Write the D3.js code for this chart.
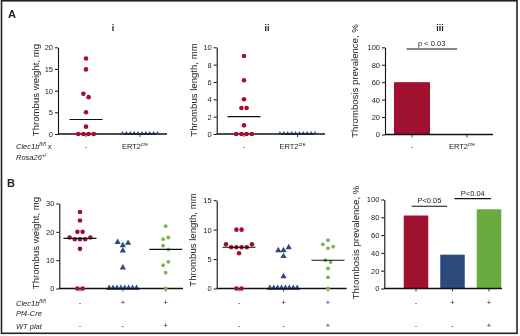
<!DOCTYPE html>
<html><head><meta charset="utf-8">
<script src="https://cdn.jsdelivr.net/npm/d3@7"></script>
<style>
body{margin:0;background:#fff}
svg{display:block;will-change:transform}
text{font-family:Arial,"Liberation Sans",Helvetica,sans-serif;fill:#222}
</style>
</head><body>
<svg id="c" width="520" height="336"></svg>
<script>
// ---------- DATA ----------
const catsA = ["-", "ERT2cre"];
const catsB = ["ctrl", "pf4", "plat"];
const rowClecB = ["-", "+", "+"];
const rowPlatB = ["-", "-", "+"];

const weightA_ctrl = [17.4, 14.9, 9.3, 8.5, 5.0, 1.7, 0, 0, 0, 0];
const weightA_ert2 = [0, 0, 0, 0, 0, 0, 0, 0, 0, 0];
const lengthA_ctrl = [9.0, 6.2, 4.0, 3.0, 3.0, 1.0, 0, 0, 0, 0];
const lengthA_ert2 = [0, 0, 0, 0, 0, 0, 0, 0, 0, 0];
const prevalenceA = [60, 0];

const weightB_ctrl = [27, 24, 20, 20, 18, 17.4, 17.4, 17.4, 18, 14, 0, 0];
const weightB_pf4 = [16.2, 15.1, 15.9, 13.2, 7.2, 0, 0, 0, 0, 0, 0, 0, 0];
const weightB_plat = [22, 17.4, 18, 15.1, 13.8, 8.2, 9.4, 5.6, 0];
const lengthB_ctrl = [10, 10, 7.5, 7, 7, 7, 7, 7.5, 6, 0, 0];
const lengthB_pf4 = [6.4, 6.4, 6.9, 5.4, 2.0, 0, 0, 0, 0, 0, 0, 0, 0];
const lengthB_plat = [8.2, 7.5, 6.85, 7.1, 4.8, 4.5, 3.4, 1.9, 0];
const prevalenceB = [82, 38, 89];

const ticksWeightA = [0, 5, 10, 15, 20];
const ticksLengthA = [0, 2, 4, 6, 8, 10];
const ticksPrev = [0, 20, 40, 60, 80, 100];
const ticksWeightB = [0, 10, 20, 30];
const ticksLengthB = [0, 5, 10, 15];

// ---------- STYLE ----------
const RED = "#a0102f", BLUE = "#2c4a7c", GREEN = "#6aaa3e", GREEN_DOT = "#78b652";
const svg = d3.select("#c");

svg.append("rect").attr("x", 1.5).attr("y", 0.8).attr("width", 515.5).attr("height", 332.5)
  .attr("fill", "none").attr("stroke", "#222").attr("stroke-width", 1.6);

function yAxis(g, y, ticks, x0) {
  const ax = g.append("g").attr("transform", `translate(${x0},0)`)
    .call(d3.axisLeft(y).tickValues(ticks).tickSize(3).tickPadding(2).tickSizeOuter(0));
  ax.select(".domain").attr("stroke", "#111").attr("stroke-width", 1.1);
  ax.selectAll(".tick line").attr("stroke", "#111");
  ax.selectAll(".tick text").attr("font-size", 7.5).attr("fill", "#222")
    .style("font-family", "Arial,'Liberation Sans',sans-serif");
}
function xLine(g, x0, x1, y0, centers) {
  g.append("line").attr("x1", x0).attr("x2", x1).attr("y1", y0).attr("y2", y0)
    .attr("stroke", "#111").attr("stroke-width", 1.5);
  g.selectAll(null).data(centers).enter().append("line")
    .attr("x1", d => d).attr("x2", d => d).attr("y1", y0).attr("y2", y0 + 3)
    .attr("stroke", "#111").attr("stroke-width", 0.8);
}
function yTitle(g, txt, x, y) {
  g.append("text").attr("transform", `translate(${x},${y}) rotate(-90)`)
    .attr("text-anchor", "middle").attr("font-size", 9.6).attr("fill", "#222").text(txt);
}
function arrange(values, y, cx) {
  const items = values.map((v, i) => ({ v, i, py: y(v) }));
  const sorted = items.slice().sort((a, b) => a.py - b.py);
  const groups = [];
  let cur = [sorted[0]];
  for (let k = 1; k < sorted.length; k++) {
    if (sorted[k].py - sorted[k - 1].py < 4) cur.push(sorted[k]);
    else { groups.push(cur); cur = [sorted[k]]; }
  }
  groups.push(cur);
  groups.forEach(gr => {
    gr.sort((a, b) => a.i - b.i);
    const n = gr.length, sp = n > 6 ? 3.9 : 5.2;
    gr.forEach((d, j) => { d.px = cx + (j - (n - 1) / 2) * sp; });
  });
  return items;
}
function drawMarks(g, pts, kind, color, size) {
  if (kind === "circle") {
    g.selectAll(null).data(pts).enter().append("circle")
      .attr("cx", d => d.px).attr("cy", d => d.py).attr("r", size).attr("fill", color);
  } else {
    const sym = d3.symbol().type(d3.symbolTriangle).size(size);
    g.selectAll(null).data(pts).enter().append("path")
      .attr("d", sym).attr("transform", d => `translate(${d.px},${d.py - 0.4})`).attr("fill", color);
  }
}
function dotPanel(o) {
  const g = svg.append("g");
  const y = d3.scaleLinear().domain([0, o.max]).range([o.y0, o.yTop]);
  const x = d3.scalePoint().domain(o.cats).range(o.catRange);
  xLine(g, o.x0, o.x1, o.y0, o.cats.map(c => x(c)));
  o.series.forEach((s, k) => {
    const cx = x(o.cats[k]);
    const pts = arrange(s.values, y, cx);
    const m = d3.median(s.values);
    drawMarks(g, pts, s.kind, s.color, s.size);
    g.append("line").attr("x1", cx - 16.5).attr("x2", cx + 16.5)
      .attr("y1", y(m)).attr("y2", y(m)).attr("stroke", "#111").attr("stroke-width", 1.1);
  });
  yAxis(g, y, o.ticks, o.x0);
  yTitle(g, o.title, o.titleX, o.titleY);
  return x;
}
function barPanel(o) {
  const g = svg.append("g");
  const y = d3.scaleLinear().domain([0, 100]).range([o.y0, o.yTop]);
  const x = d3.scalePoint().domain(o.cats).range(o.catRange);
  g.selectAll(null).data(o.values).enter().append("rect")
    .attr("x", (d, i) => x(o.cats[i]) - o.bw / 2).attr("width", o.bw)
    .attr("y", d => y(d)).attr("height", d => o.y0 - y(d))
    .attr("fill", (d, i) => o.colors[i]);
  xLine(g, o.x0, o.x1, o.y0, o.cats.map(c => x(c)));
  yAxis(g, y, ticksPrev, o.x0);
  yTitle(g, "Thrombosis prevalence, %", o.titleX, o.titleY);
  o.sig.forEach(s => {
    const x1 = x(o.cats[s.a]) + s.da, x2 = x(o.cats[s.b]) + s.db, yy = y(s.level);
    g.append("line").attr("x1", x1).attr("x2", x2).attr("y1", yy).attr("y2", yy)
      .attr("stroke", "#111").attr("stroke-width", 1.1);
    g.append("text").attr("x", (x1 + x2) / 2).attr("y", yy - 3).attr("text-anchor", "middle")
      .attr("font-size", 7.5).attr("fill", "#222").text(s.text);
  });
  return x;
}
function catLabel(x, y, cat) {
  if (cat === "ERT2cre") {
    const t = svg.append("text").attr("x", x - 5).attr("y", y).attr("text-anchor", "middle")
      .attr("font-size", 7.5).attr("fill", "#222");
    t.append("tspan").text("ERT2");
    t.append("tspan").attr("font-size", 5).attr("dy", -3).text("cre");
  } else {
    svg.append("text").attr("x", x).attr("y", y).attr("text-anchor", "middle")
      .attr("font-size", 7.5).attr("fill", "#222").text(cat);
  }
}

// ---------- PANEL A ----------
svg.append("text").attr("x", 8).attr("y", 17.5).attr("font-size", 11).attr("font-weight", "bold").attr("fill", "#111").text("A");
svg.append("text").attr("x", 7).attr("y", 186.5).attr("font-size", 11).attr("font-weight", "bold").attr("fill", "#111").text("B");
[["i", 113], ["ii", 267], ["iii", 440]].forEach(([t, xx]) =>
  svg.append("text").attr("x", xx).attr("y", 31).attr("text-anchor", "middle")
    .attr("font-size", 9).attr("font-weight", "bold").attr("fill", "#111").text(t));

const xAi = dotPanel({ x0: 58, x1: 167, y0: 134, yTop: 47.3, max: 20, ticks: ticksWeightA, cats: catsA,
  catRange: [86, 140], title: "Thrombus weight, mg", titleX: 38.5, titleY: 90,
  series: [{ values: weightA_ctrl, kind: "circle", color: RED, size: 2.3 },
           { values: weightA_ert2, kind: "tri", color: BLUE, size: 9 }] });
const xAii = dotPanel({ x0: 216.7, x1: 325, y0: 134, yTop: 47.3, max: 10, ticks: ticksLengthA, cats: catsA,
  catRange: [244, 297.5], title: "Thrombus length, mm", titleX: 196.5, titleY: 90,
  series: [{ values: lengthA_ctrl, kind: "circle", color: RED, size: 2.3 },
           { values: lengthA_ert2, kind: "tri", color: BLUE, size: 9 }] });
const xAiii = barPanel({ x0: 385, x1: 493, y0: 134.5, yTop: 47.3, cats: catsA, catRange: [412, 467], bw: 36,
  values: prevalenceA, colors: [RED, BLUE], titleX: 357.5, titleY: 81,
  sig: [{ a: 0, b: 1, da: -5.5, db: -10, level: 98, text: "p < 0.03" }] });

[xAi, xAii, xAiii].forEach(x => catsA.forEach(c => catLabel(x(c), 149, c)));

function rowLabel(y, main, sup) {
  const t = svg.append("text").attr("x", 16).attr("y", y).attr("font-size", 7.5)
    .attr("font-style", "italic").attr("fill", "#222");
  t.append("tspan").text(main[0]);
  if (sup) {
    t.append("tspan").attr("font-size", 5).attr("dy", -3).text(sup);
    if (main[1]) t.append("tspan").attr("dy", 3).attr("font-size", 7.5).text(main[1]);
  }
}
rowLabel(149, ["Clec1b", " x"], "fl/fl");
rowLabel(160, ["Rosa26", ""], "+/");

// ---------- PANEL B ----------
const xBi = dotPanel({ x0: 59.3, x1: 183, y0: 288.5, yTop: 203.5, max: 30, ticks: ticksWeightB, cats: catsB,
  catRange: [80, 165.7], title: "Thrombus weight, mg", titleX: 38.5, titleY: 243,
  series: [{ values: weightB_ctrl, kind: "circle", color: RED, size: 2.3 },
           { values: weightB_pf4, kind: "tri", color: BLUE, size: 17 },
           { values: weightB_plat, kind: "circle", color: GREEN_DOT, size: 1.9 }] });
const xBii = dotPanel({ x0: 216.7, x1: 346.7, y0: 288.5, yTop: 200.2, max: 15, ticks: ticksLengthB, cats: catsB,
  catRange: [239, 328], title: "Thrombus length, mm", titleX: 196, titleY: 240,
  series: [{ values: lengthB_ctrl, kind: "circle", color: RED, size: 2.3 },
           { values: lengthB_pf4, kind: "tri", color: BLUE, size: 17 },
           { values: lengthB_plat, kind: "circle", color: GREEN_DOT, size: 1.9 }] });
const xBiii = barPanel({ x0: 384.3, x1: 502, y0: 288.5, yTop: 199.5, cats: catsB, catRange: [416, 489], bw: 24.5,
  values: prevalenceB, colors: [RED, BLUE, GREEN], titleX: 358.5, titleY: 242.5,
  sig: [{ a: 0, b: 1, da: -4.3, db: -5.3, level: 92.5, text: "P<0.05" },
        { a: 1, b: 2, da: 2, db: 2, level: 101, text: "P<0.04" }] });

[xBi, xBii, xBiii].forEach(x => catsB.forEach((c, i) => {
  svg.append("text").attr("x", x(c)).attr("y", 305).attr("text-anchor", "middle").attr("font-size", 7.5).attr("fill", "#222").text(rowClecB[i]);
  svg.append("text").attr("x", x(c)).attr("y", 328).attr("text-anchor", "middle").attr("font-size", 7.5).attr("fill", "#222").text(rowPlatB[i]);
}));
rowLabel(305.5, ["Clec1b", ""], "fl/fl");
rowLabel(316, ["Pf4-Cre"], null);
rowLabel(328.5, ["WT plat"], null);
</script>
</body></html>
